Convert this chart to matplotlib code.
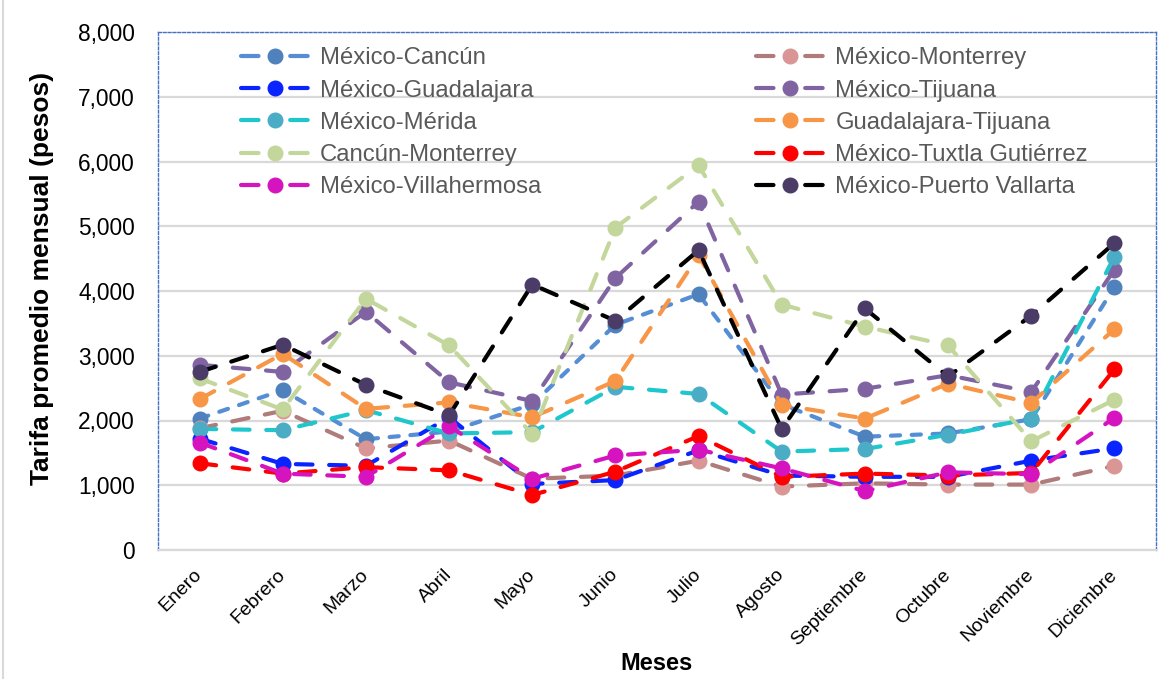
import matplotlib
matplotlib.use('Agg')
import matplotlib.pyplot as plt
from matplotlib.lines import Line2D
from matplotlib.ticker import FuncFormatter

plt.rcParams['font.family'] = ['Liberation Sans', 'DejaVu Sans']

meses = ['Enero', 'Febrero', 'Marzo', 'Abril', 'Mayo', 'Junio', 'Julio',
         'Agosto', 'Septiembre', 'Octubre', 'Noviembre', 'Diciembre']

# Tarifa promedio mensual por ruta (pesos)
mex_cancun = [2030, 2470, 1710, 1830, 2250, 3480, 3950, 2250, 1750, 1800, 2020, 4060]
mex_monterrey = [1880, 2150, 1570, 1690, 1100, 1150, 1380, 980, 1030, 1010, 1010, 1300]
mex_guadalajara = [1720, 1330, 1300, 2050, 1020, 1080, 1540, 1150, 1130, 1130, 1380, 1570]
mex_tijuana = [2860, 2750, 3680, 2590, 2300, 4200, 5380, 2400, 2490, 2700, 2440, 4330]
mex_merida = [1870, 1850, 2160, 1800, 1820, 2520, 2410, 1520, 1560, 1780, 2030, 4530]
gdl_tijuana = [2330, 3030, 2180, 2280, 2050, 2610, 4550, 2240, 2030, 2570, 2270, 3410]
cancun_monterrey = [2650, 2170, 3880, 3160, 1790, 4980, 5940, 3790, 3450, 3160, 1680, 2320]
mex_tuxtla = [1340, 1180, 1280, 1230, 850, 1210, 1760, 1130, 1180, 1150, 1190, 2790]
mex_villahermosa = [1660, 1180, 1130, 1910, 1100, 1460, 1550, 1260, 910, 1200, 1170, 2040]
mex_vallarta = [2750, 3170, 2550, 2080, 4100, 3540, 4630, 1870, 3730, 2680, 3620, 4740]

series = [
    ('México-Cancún', mex_cancun, '#558ED5', '#4F81BD', (2.2, 2.8)),
    ('México-Monterrey', mex_monterrey, '#B07B7B', '#D99694', (4, 4)),
    ('México-Guadalajara', mex_guadalajara, '#0A24FF', '#0A24FF', (4, 4)),
    ('México-Tijuana', mex_tijuana, '#8064A2', '#8064A2', (4, 4)),
    ('México-Mérida', mex_merida, '#1FC7CC', '#4BACC6', (4, 4)),
    ('Guadalajara-Tijuana', gdl_tijuana, '#F79646', '#F79646', (4, 4)),
    ('Cancún-Monterrey', cancun_monterrey, '#C3D69B', '#C3D69B', (4, 4)),
    ('México-Tuxtla Gutiérrez', mex_tuxtla, '#FF0000', '#FF0000', (4, 4)),
    ('México-Villahermosa', mex_villahermosa, '#D514C0', '#D514C0', (4, 4)),
    ('México-Puerto Vallarta', mex_vallarta, '#000000', '#4A3C66', (4, 4)),
]

fig = plt.figure(figsize=(11.76, 6.79), dpi=100)
ax = fig.add_axes([158 / 1176, 1 - 550 / 679, 998 / 1176, 518 / 679])

x = list(range(len(meses)))
handles = {}
for nombre, vals, color, mcolor, dash in series:
    ax.plot(x, vals, color=color, lw=3.0, dashes=dash,
            dash_capstyle='round', solid_capstyle='round',
            marker='o', ms=10.5, mfc=mcolor, mec=mcolor)
    # muestra de leyenda: guion - punto - guion
    handles[nombre] = Line2D([], [], color=color, lw=3.0, dashes=(4.2, 7.6),
                             dash_capstyle='round', marker='o', ms=10.5,
                             mfc=mcolor, mec=mcolor)

ax.set_xlim(-0.5, 11.5)
ax.set_ylim(0, 8000)
ax.set_yticks(range(0, 8001, 1000))
ax.yaxis.set_major_formatter(FuncFormatter(lambda v, p: f'{int(v):,}'))
ax.grid(axis='y', color='#D9D9D9', lw=1.6)
ax.set_axisbelow(True)
ax.tick_params(length=0)
ax.tick_params(axis='y', labelsize=16.4, pad=16.5)

ax.set_xticks(x)
ax.set_xticklabels(meses, rotation=45, ha='right', va='center',
                   rotation_mode='anchor', fontsize=14)
ax.tick_params(axis='x', pad=16)

for s in ['left', 'top', 'right']:
    ax.spines[s].set_color('#4472C4')
    ax.spines[s].set_linestyle((0, (2, 1.5)))
    ax.spines[s].set_linewidth(1.0)
ax.spines['bottom'].set_color('#D9D9D9')
ax.spines['bottom'].set_linewidth(1.6)

fig.text(42 / 1176, 1 - 278 / 679, 'Tarifa promedio mensual (pesos)', rotation=90,
         ha='center', va='center', fontsize=19, fontweight='bold')
fig.text(657 / 1176, 1 - 663 / 679, 'Meses', ha='center', va='center',
         fontsize=17, fontweight='bold')

orden = ['México-Cancún', 'México-Guadalajara', 'México-Mérida', 'Cancún-Monterrey',
         'México-Villahermosa', 'México-Monterrey', 'México-Tijuana',
         'Guadalajara-Tijuana', 'México-Tuxtla Gutiérrez', 'México-Puerto Vallarta']
leg = ax.legend([handles[n] for n in orden], orden, ncol=2, loc='upper left',
                bbox_to_anchor=(0.062, 1.012), frameon=False, fontsize=17.2,
                handlelength=2.8, handletextpad=0.5, columnspacing=9.0,
                labelspacing=0.43, numpoints=1)
for t in leg.get_texts():
    t.set_color('#595959')

fig.add_artist(Line2D([3 / 1176, 3 / 1176], [0, 1], color='#D9D9D9', lw=1.5))

fig.savefig('out.png', dpi=100)
